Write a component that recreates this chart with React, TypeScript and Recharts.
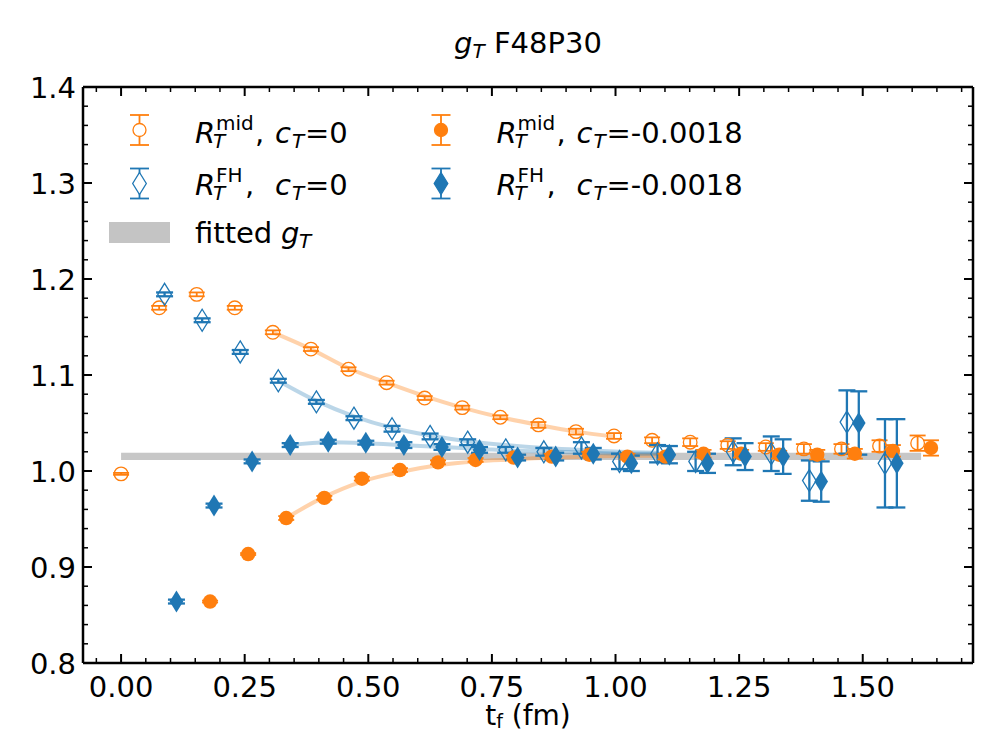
import {
  ComposedChart,
  Scatter,
  Line,
  XAxis,
  YAxis,
  ErrorBar,
  ReferenceArea,
  Legend,
} from 'recharts'

const ORANGE = '#ff7f0e'
const BLUE = '#1f77b4'
const FONT = '"DejaVu Sans", sans-serif'

// source times t_f = n*a in fm, n = 0..21
const tf = [
  0, 0.077, 0.153, 0.23, 0.307, 0.384, 0.46, 0.537, 0.614, 0.69, 0.767, 0.844,
  0.92, 0.997, 1.074, 1.151, 1.227, 1.304, 1.381, 1.457, 1.534, 1.611,
]

// small x shifts so the four sets do not sit on top of each other
const shiftFhOpen = 0.011
const shiftMidFilled = 0.027
const shiftFhFilled = 0.035

// R_T^mid, c_T = 0   (n = 0..21)
const midOpen = [
  0.997, 1.17, 1.184, 1.17, 1.1445, 1.127, 1.106, 1.092, 1.076, 1.066, 1.056,
  1.048, 1.041, 1.0365, 1.032, 1.03, 1.027, 1.025, 1.023, 1.023, 1.026, 1.029,
]
const midOpenErr = [
  0.001, 0.002, 0.002, 0.002, 0.002, 0.002, 0.002, 0.002, 0.002, 0.002, 0.002,
  0.003, 0.003, 0.003, 0.003, 0.004, 0.004, 0.004, 0.005, 0.005, 0.006, 0.008,
]

// R_T^FH, c_T = 0   (n = 1..20)
const fhOpen = [
  1.184, 1.157, 1.124, 1.094, 1.072, 1.055, 1.044, 1.036, 1.03, 1.022, 1.02,
  1.024, 1.01, 1.018, 1.01, 1.02, 1.018, 0.99, 1.051, 1.008,
]
const fhErr = [
  0.002, 0.002, 0.002, 0.002, 0.002, 0.002, 0.003, 0.003, 0.003, 0.003, 0.004,
  0.006, 0.008, 0.009, 0.01, 0.014, 0.018, 0.021, 0.033, 0.046,
]

// R_T^mid, c_T = -0.0018   (n = 2..21)
const midFilled = [
  0.864, 0.9135, 0.951, 0.972, 0.992, 1.001, 1.009, 1.0115, 1.014, 1.015, 1.017,
  1.015, 1.015, 1.018, 1.018, 1.017, 1.017, 1.018, 1.021, 1.024,
]
const midFilledErr = [
  0.001, 0.001, 0.002, 0.002, 0.002, 0.002, 0.002, 0.002, 0.002, 0.003, 0.003,
  0.003, 0.003, 0.004, 0.004, 0.004, 0.005, 0.005, 0.006, 0.008,
]

// R_T^FH, c_T = -0.0018   (n = 1..20)
const fhFilled = [
  0.864, 0.964, 1.01, 1.027, 1.0305, 1.0295, 1.027, 1.025, 1.022, 1.014, 1.015,
  1.018, 1.008, 1.017, 1.008, 1.015, 1.015, 0.989, 1.05, 1.008,
]

// fit curves (n = 4..13 for mid c_T=0, n = 4..14 for the others)
const midOpenFit = [1.1445, 1.127, 1.107, 1.092, 1.078, 1.066, 1.056, 1.048, 1.041, 1.036]
const fhOpenFit = [1.094, 1.073, 1.057, 1.045, 1.037, 1.031, 1.027, 1.024, 1.022, 1.02, 1.019]
const midFilledFit = [0.951, 0.973, 0.989, 0.999, 1.006, 1.01, 1.012, 1.014, 1.015, 1.016, 1.016]
const fhFilledFit = [1.027, 1.03, 1.029, 1.027, 1.025, 1.023, 1.021, 1.02, 1.019, 1.018, 1.018]

// fitted g_T band
const gtLow = 1.0115
const gtHigh = 1.019
const gtFrom = 0
const gtTo = 1.618

const xMajor = [0, 0.25, 0.5, 0.75, 1.0, 1.25, 1.5]
const yMajor = [0.8, 0.9, 1.0, 1.1, 1.2, 1.3, 1.4]
const X_DOMAIN: [number, number] = [-0.077, 1.723]
const Y_DOMAIN: [number, number] = [0.8, 1.4]

const xTicks: number[] = []
for (let i = -1; i <= 34; i++) xTicks.push(Math.round(i * 5) / 100)
const yTicks: number[] = []
for (let i = 0; i <= 30; i++) yTicks.push(Math.round(80 + i * 2) / 100)

const rows = (t: number[], y: number[], e: number[] | null, dx: number) =>
  y.map((v, i) => ({ x: +(t[i] + dx).toFixed(4), y: v, err: e ? e[i] : 0 }))

const midOpenRows = rows(tf, midOpen, midOpenErr, 0)
const fhOpenRows = rows(tf.slice(1), fhOpen, fhErr, shiftFhOpen)
const midFilledRows = rows(tf.slice(2), midFilled, midFilledErr, shiftMidFilled)
const fhFilledRows = rows(tf.slice(1), fhFilled, fhErr, shiftFhFilled)

const midOpenFitRows = rows(tf.slice(4), midOpenFit, null, 0)
const fhOpenFitRows = rows(tf.slice(4), fhOpenFit, null, shiftFhOpen)
const midFilledFitRows = rows(tf.slice(4), midFilledFit, null, shiftMidFilled)
const fhFilledFitRows = rows(tf.slice(4), fhFilledFit, null, shiftFhFilled)

const near = (list: number[], v: number) => list.some((m) => Math.abs(m - v) < 1e-6)

const MAJOR = 9
const MINOR = 5

const BottomTick = (p: any) => {
  const major = near(xMajor, p.payload.value)
  return (
    <g>
      <line x1={p.x} x2={p.x} y1={p.y} y2={p.y - (major ? MAJOR : MINOR)} stroke="#000" strokeWidth={major ? 2 : 1.5} />
      {major && (
        <text x={p.x} y={p.y + 34} textAnchor="middle" fontSize={29} fontFamily={FONT} fill="#000">
          {p.payload.value.toFixed(2)}
        </text>
      )}
    </g>
  )
}

const TopTick = (p: any) => {
  const major = near(xMajor, p.payload.value)
  return <line x1={p.x} x2={p.x} y1={p.y} y2={p.y + (major ? MAJOR : MINOR)} stroke="#000" strokeWidth={major ? 2 : 1.5} />
}

const LeftTick = (p: any) => {
  const major = near(yMajor, p.payload.value)
  return (
    <g>
      <line x1={p.x} x2={p.x + (major ? MAJOR : MINOR)} y1={p.y} y2={p.y} stroke="#000" strokeWidth={major ? 2 : 1.5} />
      {major && (
        <text x={p.x - 7} y={p.y + 10.5} textAnchor="end" fontSize={29} fontFamily={FONT} fill="#000">
          {p.payload.value.toFixed(1)}
        </text>
      )}
    </g>
  )
}

const RightTick = (p: any) => {
  const major = near(yMajor, p.payload.value)
  return <line x1={p.x} x2={p.x - (major ? MAJOR : MINOR)} y1={p.y} y2={p.y} stroke="#000" strokeWidth={major ? 2 : 1.5} />
}

// markers
const OpenCircle = (p: any) => <circle cx={p.cx} cy={p.cy} r={6.8} fill="none" stroke={ORANGE} strokeWidth={1.3} />
const FilledCircle = (p: any) => <circle cx={p.cx} cy={p.cy} r={7.2} fill={ORANGE} />
const diamond = (cx: number, cy: number) =>
  `M${cx},${cy - 11} L${cx + 6.8},${cy} L${cx},${cy + 11} L${cx - 6.8},${cy} Z`
const OpenDiamond = (p: any) => <path d={diamond(p.cx, p.cy)} fill="none" stroke={BLUE} strokeWidth={1.3} />
const FilledDiamond = (p: any) => <path d={diamond(p.cx, p.cy)} fill={BLUE} />

const T = ({ x, y, size = 29, italic = false, children }: any) => (
  <text x={x} y={y} fontSize={size} fontStyle={italic ? 'italic' : 'normal'} fontFamily={FONT} fill="#000">
    {children}
  </text>
)

const Handle = ({ x, y, color, filled, shape }: any) => (
  <g>
    <line x1={x} x2={x} y1={y - 15} y2={y + 15} stroke={color} strokeWidth={1.8} />
    <line x1={x - 9.5} x2={x + 9.5} y1={y - 15} y2={y - 15} stroke={color} strokeWidth={1.8} />
    <line x1={x - 9.5} x2={x + 9.5} y1={y + 15} y2={y + 15} stroke={color} strokeWidth={1.8} />
    {shape === 'circle' ? (
      <circle cx={x} cy={y} r={6.5} fill={filled ? color : '#fff'} stroke={color} strokeWidth={1.3} />
    ) : (
      <path d={diamond(x, y)} fill={filled ? color : '#fff'} stroke={color} strokeWidth={1.3} />
    )}
  </g>
)

const Entry = ({ x, y, sup, tail }: any) => (
  <g>
    <T x={x} y={y} italic>R</T>
    <T x={x + 18} y={y + 5} size={20} italic>T</T>
    <T x={x + 21} y={y - 13} size={20}>{sup}</T>
    <T x={x + (sup === 'mid' ? 60 : 50)} y={y}>,</T>
    <T x={x + 80} y={y} italic>c</T>
    <T x={x + 97} y={y + 5} size={20} italic>T</T>
    <T x={x + 110} y={y}>{tail}</T>
  </g>
)

function LegendBox() {
  return (
    <svg width={989} height={260} style={{ display: 'block', pointerEvents: 'none' }}>
      <Handle x={139.5} y={130} color={ORANGE} shape="circle" />
      <Entry x={195} y={143} sup="mid" tail="=0" />
      <Handle x={139.5} y={183.5} color={BLUE} shape="diamond" />
      <Entry x={195} y={195} sup="FH" tail="=0" />
      <rect x={109} y={222} width={61} height={21} fill="#c4c4c4" />
      <T x={195} y={243}>fitted</T>
      <T x={281} y={243} italic>g</T>
      <T x={299} y={248} size={20} italic>T</T>

      <Handle x={441} y={130} color={ORANGE} shape="circle" filled />
      <Entry x={496.5} y={143} sup="mid" tail="=-0.0018" />
      <Handle x={441} y={183.5} color={BLUE} shape="diamond" filled />
      <Entry x={496.5} y={195} sup="FH" tail="=-0.0018" />
    </svg>
  )
}

const axisLine = { stroke: '#000', strokeWidth: 2.5 }

export default function App() {
  return (
    <div style={{ position: 'absolute', left: 0, top: 0, width: 989, height: 732, background: '#fff' }}>
      <ComposedChart width={989} height={732} margin={{ top: 86, right: 15, bottom: 29, left: 0 }}>
        <XAxis
          dataKey="x"
          type="number"
          domain={X_DOMAIN}
          allowDataOverflow
          ticks={xTicks}
          interval={0}
          tick={<BottomTick />}
          tickLine={false}
          tickSize={0}
          tickMargin={0}
          height={40}
          axisLine={axisLine}
        />
        <XAxis
          xAxisId="top"
          orientation="top"
          dataKey="x"
          type="number"
          domain={X_DOMAIN}
          allowDataOverflow
          ticks={xTicks}
          interval={0}
          tick={<TopTick />}
          tickLine={false}
          tickSize={0}
          tickMargin={0}
          height={1}
          axisLine={axisLine}
        />
        <YAxis
          dataKey="y"
          type="number"
          domain={Y_DOMAIN}
          allowDataOverflow
          ticks={yTicks}
          interval={0}
          tick={<LeftTick />}
          tickLine={false}
          tickSize={0}
          tickMargin={0}
          width={83}
          axisLine={axisLine}
        />
        <YAxis
          yAxisId="right"
          orientation="right"
          dataKey="y"
          type="number"
          domain={Y_DOMAIN}
          allowDataOverflow
          ticks={yTicks}
          interval={0}
          tick={<RightTick />}
          tickLine={false}
          tickSize={0}
          tickMargin={0}
          width={1}
          axisLine={axisLine}
        />

        <ReferenceArea x1={gtFrom} x2={gtTo} y1={gtLow} y2={gtHigh} fill="#bdbdbd" fillOpacity={0.85} stroke="none" />

        <Line xAxisId="top" yAxisId="right" data={midOpenFitRows} dataKey="y" type="monotone" stroke={ORANGE} strokeOpacity={0.35} strokeWidth={4} dot={false} activeDot={false} legendType="none" isAnimationActive={false} />
        <Line data={fhOpenFitRows} dataKey="y" type="monotone" stroke={BLUE} strokeOpacity={0.3} strokeWidth={4} dot={false} activeDot={false} legendType="none" isAnimationActive={false} />
        <Line data={midFilledFitRows} dataKey="y" type="monotone" stroke={ORANGE} strokeOpacity={0.35} strokeWidth={4} dot={false} activeDot={false} legendType="none" isAnimationActive={false} />
        <Line data={fhFilledFitRows} dataKey="y" type="monotone" stroke={BLUE} strokeOpacity={0.3} strokeWidth={4} dot={false} activeDot={false} legendType="none" isAnimationActive={false} />

        <Scatter data={midOpenRows} dataKey="y" shape={OpenCircle} legendType="none" isAnimationActive={false}>
          <ErrorBar dataKey="err" direction="y" width={8} stroke={ORANGE} strokeWidth={1.8} isAnimationActive={false} />
        </Scatter>
        <Scatter data={fhOpenRows} dataKey="y" shape={OpenDiamond} legendType="none" isAnimationActive={false}>
          <ErrorBar dataKey="err" direction="y" width={8.5} stroke={BLUE} strokeWidth={2.3} isAnimationActive={false} />
        </Scatter>
        <Scatter data={midFilledRows} dataKey="y" shape={FilledCircle} legendType="none" isAnimationActive={false}>
          <ErrorBar dataKey="err" direction="y" width={8} stroke={ORANGE} strokeWidth={1.8} isAnimationActive={false} />
        </Scatter>
        <Scatter data={fhFilledRows} dataKey="y" shape={FilledDiamond} legendType="none" isAnimationActive={false}>
          <ErrorBar dataKey="err" direction="y" width={8.5} stroke={BLUE} strokeWidth={2.3} isAnimationActive={false} />
        </Scatter>

        <Legend
          layout="horizontal"
          verticalAlign="middle"
          align="center"
          content={() => <LegendBox />}
          wrapperStyle={{ left: 0, top: 0, width: 989, height: 260, margin: 0, padding: 0 }}
        />
      </ComposedChart>

      <svg width={989} height={732} style={{ position: 'absolute', left: 0, top: 0, pointerEvents: 'none' }}>
        <text x={528} y={53} textAnchor="middle" fontSize={29} fontFamily={FONT} fill="#000">
          <tspan fontStyle="italic">g</tspan>
          <tspan fontStyle="italic" fontSize={20} dy={5}>T</tspan>
          <tspan dy={-5}> F48P30</tspan>
        </text>
        <text x={528} y={725} textAnchor="middle" fontSize={28} fontFamily={FONT} fill="#000">
          t<tspan fontSize={19} dy={3}>f</tspan>
          <tspan dy={-3}> (fm)</tspan>
        </text>
      </svg>
    </div>
  )
}
